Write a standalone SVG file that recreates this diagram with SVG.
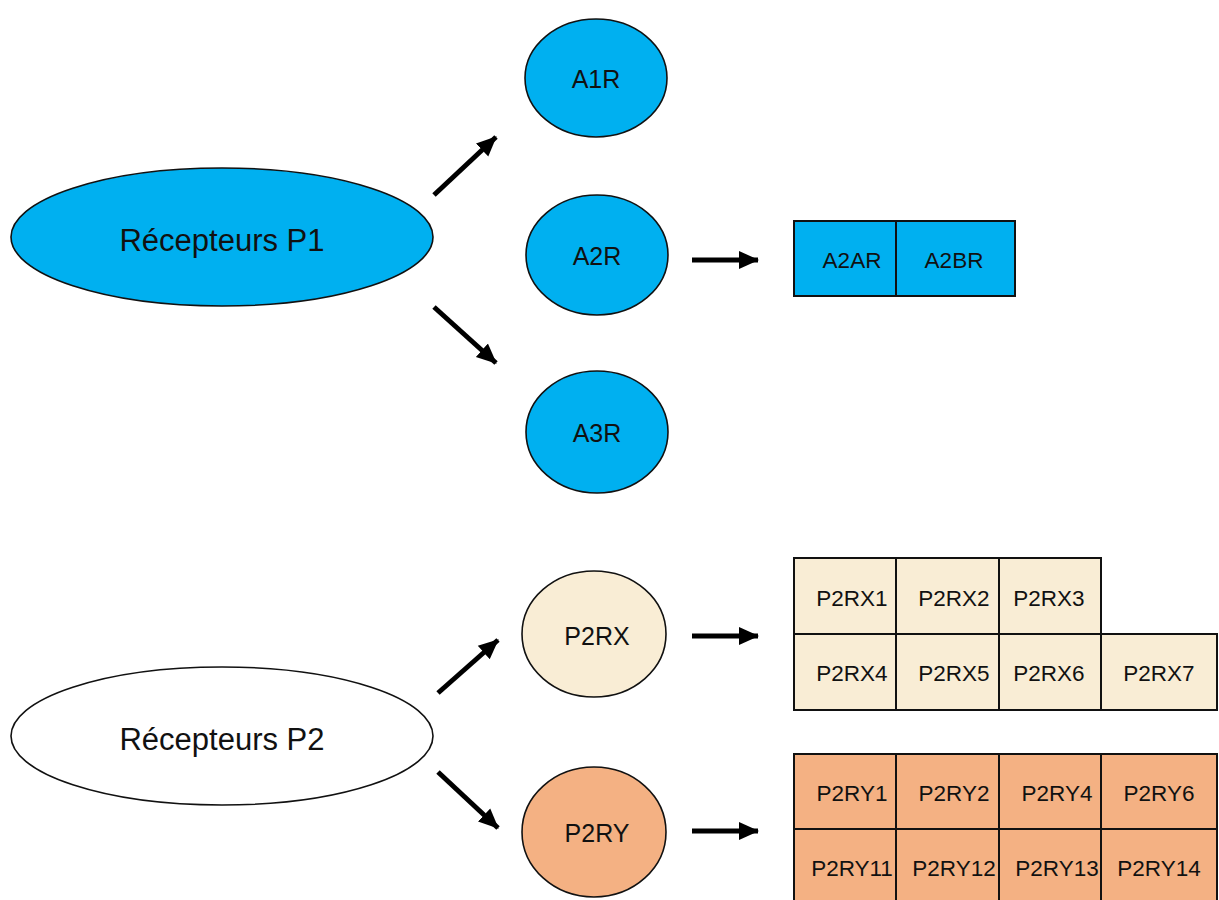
<svg xmlns="http://www.w3.org/2000/svg" width="1219" height="900" viewBox="0 0 1219 900">
<style>
text{font-family:"Liberation Sans",Arial,sans-serif;fill:#111;text-anchor:middle}
.big{font-size:31px}
.mid{font-size:25px}
.sm{font-size:22.5px}
.blue{fill:#00B0F0;stroke:#111;stroke-width:1.6}
.cream{fill:#F9EDD5;stroke:#111;stroke-width:1.6}
.orange{fill:#F4B183;stroke:#111;stroke-width:1.6}
.white{fill:#fff;stroke:#111;stroke-width:1.6}
.cell{stroke:#111;stroke-width:2}
.arr{stroke:#000;stroke-width:5;fill:none;marker-end:url(#ah)}
</style>
<defs>
<marker id="ah" markerUnits="userSpaceOnUse" markerWidth="22" markerHeight="22" refX="19" refY="10" orient="auto">
<path d="M0,1 L20,10 L0,19 z" fill="#000"/>
</marker>
</defs>
<rect width="1219" height="900" fill="#fff"/>
<g id="connectors">
<line class="arr" x1="434" y1="195" x2="496" y2="137"/>
<line class="arr" x1="434" y1="307" x2="496" y2="363"/>
<line class="arr" x1="692" y1="260" x2="758" y2="260"/>
<line class="arr" x1="438" y1="693" x2="498" y2="640"/>
<line class="arr" x1="438" y1="772" x2="498" y2="828"/>
<line class="arr" x1="692" y1="636" x2="758" y2="636"/>
<line class="arr" x1="692" y1="831" x2="758" y2="831"/>
</g>
<g id="p1">
<ellipse class="blue" cx="222" cy="237" rx="211" ry="69"/>
<text class="big" x="222" y="251">Récepteurs P1</text>
</g>
<g id="a1r">
<ellipse class="blue" cx="596" cy="78" rx="71" ry="59"/>
<text class="mid" x="596" y="88">A1R</text>
</g>
<g id="a2r">
<ellipse class="blue" cx="597" cy="255" rx="71" ry="60"/>
<text class="mid" x="597" y="265">A2R</text>
</g>
<g id="a3r">
<ellipse class="blue" cx="597" cy="432" rx="71" ry="61"/>
<text class="mid" x="597" y="442">A3R</text>
</g>
<g id="a2-subtypes">
<rect class="cell" fill="#00B0F0" x="794" y="221" width="102" height="75"/>
<rect class="cell" fill="#00B0F0" x="896" y="221" width="119" height="75"/>
<text class="sm" x="852" y="268">A2AR</text>
<text class="sm" x="954" y="268">A2BR</text>
</g>
<g id="p2">
<ellipse class="white" cx="222" cy="736" rx="211" ry="69"/>
<text class="big" x="222" y="750">Récepteurs P2</text>
</g>
<g id="p2rx">
<ellipse class="cream" cx="594" cy="634" rx="72" ry="63"/>
<text class="mid" x="597" y="645">P2RX</text>
</g>
<g id="p2ry">
<ellipse class="orange" cx="594" cy="832" rx="72" ry="65"/>
<text class="mid" x="597" y="842">P2RY</text>
</g>
<g id="p2rx-subtypes" fill="#F9EDD5">
<rect class="cell" x="794" y="558" width="102" height="76"/>
<rect class="cell" x="896" y="558" width="103" height="76"/>
<rect class="cell" x="999" y="558" width="102" height="76"/>
<rect class="cell" x="794" y="634" width="102" height="76"/>
<rect class="cell" x="896" y="634" width="103" height="76"/>
<rect class="cell" x="999" y="634" width="102" height="76"/>
<rect class="cell" x="1101" y="634" width="116" height="76"/>
<text class="sm" x="852" y="606">P2RX1</text>
<text class="sm" x="954" y="606">P2RX2</text>
<text class="sm" x="1049" y="606">P2RX3</text>
<text class="sm" x="852" y="681">P2RX4</text>
<text class="sm" x="954" y="681">P2RX5</text>
<text class="sm" x="1049" y="681">P2RX6</text>
<text class="sm" x="1159" y="681">P2RX7</text>
</g>
<g id="p2ry-subtypes" fill="#F4B183">
<rect class="cell" x="794" y="754" width="102" height="75"/>
<rect class="cell" x="896" y="754" width="103" height="75"/>
<rect class="cell" x="999" y="754" width="102" height="75"/>
<rect class="cell" x="1101" y="754" width="116" height="75"/>
<rect class="cell" x="794" y="829" width="102" height="80"/>
<rect class="cell" x="896" y="829" width="103" height="80"/>
<rect class="cell" x="999" y="829" width="102" height="80"/>
<rect class="cell" x="1101" y="829" width="116" height="80"/>
<text class="sm" x="852" y="801">P2RY1</text>
<text class="sm" x="954" y="801">P2RY2</text>
<text class="sm" x="1057" y="801">P2RY4</text>
<text class="sm" x="1159" y="801">P2RY6</text>
<text class="sm" x="852" y="876">P2RY11</text>
<text class="sm" x="954" y="876">P2RY12</text>
<text class="sm" x="1057" y="876">P2RY13</text>
<text class="sm" x="1159" y="876">P2RY14</text>
</g>
</svg>
